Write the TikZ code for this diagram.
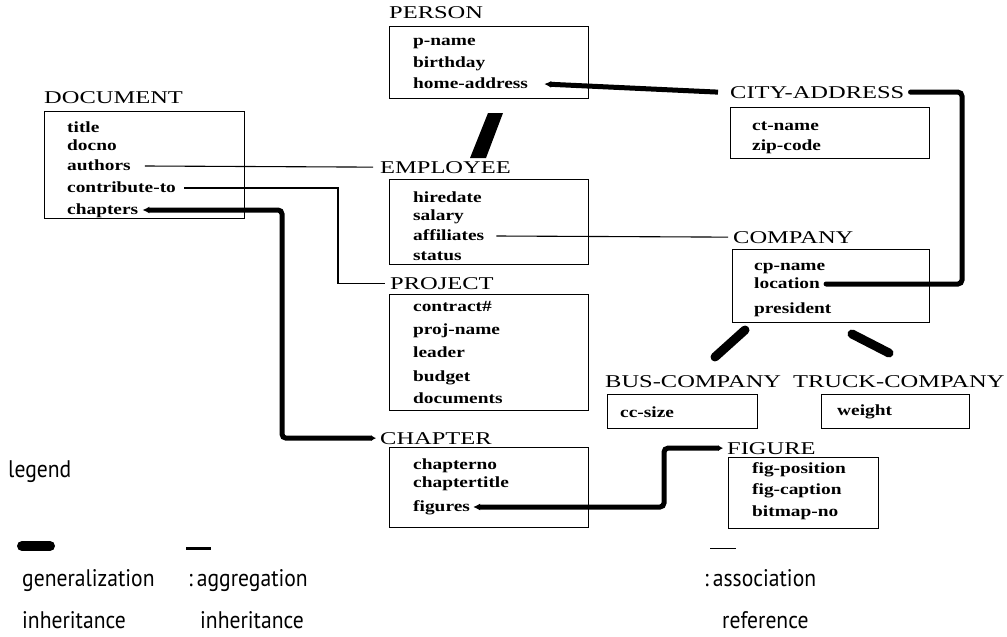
\documentclass[tikz,border=0pt]{standalone}
\usepackage{fontspec}
\setmainfont{Liberation Serif}
\newfontfamily\titlefont[FakeStretch=1.36]{Liberation Serif}
\newfontfamily\attrfont[FakeStretch=1.25]{Liberation Serif}
\newfontfamily\legfont[FakeStretch=0.9]{PT Sans}
\usetikzlibrary{arrows.meta}
\begin{document}
\begin{tikzpicture}[x=1pt,y=-1pt,
  title/.style={anchor=base west, inner sep=0pt, font=\titlefont\fontsize{18}{18}\selectfont},
  attr/.style={anchor=base west, inner sep=0pt, font=\attrfont\bfseries\fontsize{15.5}{15.5}\selectfont},
  classbox/.style={draw, line width=1.2pt, anchor=north west, inner sep=0pt},
  assoc/.style={line width=1.1pt},
  aggr/.style={line width=5pt, rounded corners=4pt},
  gentip/.style={line width=9pt, line cap=round},
  leg/.style={anchor=base west, inner sep=0pt, font=\legfont\fontsize{24}{24}\selectfont},
  atip/.tip={Latex[length=7pt,width=7pt]}
]
\useasboundingbox (0,0) rectangle (1007,637);

% ---------- boxes ----------
\node[classbox, minimum width=199pt, minimum height=72pt] (personbox) at (389,26) {};
\node[classbox, minimum width=200pt, minimum height=107pt] (docbox) at (44,111) {};
\node[classbox, minimum width=199pt, minimum height=85pt] (empbox) at (389,179) {};
\node[classbox, minimum width=199pt, minimum height=51pt] (citybox) at (730,107) {};
\node[classbox, minimum width=197pt, minimum height=73pt] (compbox) at (732,249) {};
\node[classbox, minimum width=199pt, minimum height=116pt] (projbox) at (389,294) {};
\node[classbox, minimum width=150pt, minimum height=34pt] (busbox) at (607,394) {};
\node[classbox, minimum width=148pt, minimum height=34pt] (truckbox) at (821,394) {};
\node[classbox, minimum width=199pt, minimum height=80pt] (chapbox) at (389,447) {};
\node[classbox, minimum width=150pt, minimum height=71pt] (figbox) at (728,457) {};

% ---------- titles ----------
\node[title] (persontitle) at (389,19) {PERSON};
\node[title] (doctitle) at (44,103) {DOCUMENT};
\node[title] (emptitle) at (380,173) {EMPLOYEE};
\node[title] (citytitle) at (730,98) {CITY-ADDRESS};
\node[title] (comptitle) at (733,243) {COMPANY};
\node[title] (projtitle) at (390,289) {PROJECT};
\node[title] (bustitle) at (605,387) {BUS-COMPANY};
\node[title] (trucktitle) at (793,387) {TRUCK-COMPANY};
\node[title] (chaptitle) at (380,444) {CHAPTER};
\node[title] (figtitle) at (727,454) {FIGURE};

% ---------- attributes ----------
\node[attr] (pname) at (413,45) {p-name};
\node[attr] (birthday) at (413,67) {birthday};
\node[attr] (homeaddr) at (413,88) {home-address};

\node[attr] (dtitle) at (67,132) {title};
\node[attr] (docno) at (67,150) {docno};
\node[attr] (authors) at (67,170) {authors};
\node[attr] (contribute) at (67,192) {contribute-to};
\node[attr] (chapters) at (67,214) {chapters};

\node[attr] (hiredate) at (413,202) {hiredate};
\node[attr] (salary) at (413,220) {salary};
\node[attr] (affiliates) at (413,240) {affiliates};
\node[attr] (status) at (413,260) {status};

\node[attr] (ctname) at (752,130) {ct-name};
\node[attr] (zipcode) at (752,150) {zip-code};

\node[attr] (cpname) at (754,270) {cp-name};
\node[attr] (location) at (754,288) {location};
\node[attr] (president) at (754,313) {president};

\node[attr] (contract) at (413,311) {contract\#};
\node[attr] (projname) at (413,334) {proj-name};
\node[attr] (leader) at (413,357) {leader};
\node[attr] (budget) at (413,381) {budget};
\node[attr] (documents) at (413,403) {documents};

\node[attr] (ccsize) at (620,417) {cc-size};
\node[attr] (weight) at (837,415) {weight};

\node[attr] (chapterno) at (413,469) {chapterno};
\node[attr] (chaptertitle) at (413,487) {chaptertitle};
\node[attr] (figures) at (413,511) {figures};

\node[attr] (figpos) at (752,473) {fig-position};
\node[attr] (figcap) at (752,494) {fig-caption};
\node[attr] (bitmap) at (752,516) {bitmap-no};

% ---------- bend points ----------
\coordinate (cvert) at (962,190);
\coordinate (pbend) at (338,240);
\coordinate (chbend) at (282,320);
\coordinate (fbend) at (664,480);

% ---------- aggregation (thick) ----------
\draw[aggr, {atip}-] ([shift={(16,-4)}]homeaddr.base east) -- ([xshift=-12]citytitle.west);
\draw[aggr, line cap=round] ([xshift=6]citytitle.east) -| (cvert) |- ([shift={(6,-4)}]location.base east);
\draw[aggr, {atip}-{Latex[length=5pt,width=6pt]}] ([shift={(4,-4)}]chapters.base east) -| (chbend) |- ([xshift=-4]chaptitle.west);
\draw[aggr, {atip}-{Latex[length=5pt,width=6pt]}] ([shift={(3,-4)}]figures.base east) -| (fbend) |- ([xshift=-4]figtitle.west);

% ---------- association (thin) ----------
\draw[assoc] ([shift={(14,-4)}]authors.base east) -- ([xshift=-7]emptitle.west);
\draw[assoc] ([shift={(8,-4)}]contribute.base east) -| (pbend) |- ([xshift=-5]projtitle.west);
\draw[assoc] ([shift={(12,-4)}]affiliates.base east) -- ([xshift=-5]comptitle.west);

% ---------- generalization ----------
\fill (488,113) -- (503,113) -- (486,158) -- (470,158) -- cycle;
\draw[gentip] (745,330) -- (715,357);
\draw[gentip] (852,334) -- (889,353);

% ---------- legend ----------
\node[leg] (legendlbl) at (8,477) {legend};
\draw[gentip, line width=10pt] (22,546) -- (50,546);
\node[leg] (genlbl) at (22,586) {generalization};
\node[leg] (genlbl2) at (22,628) {inheritance};
\draw[line width=3pt] (186,548) -- (211,548);
\node[leg] (agglbl) at (188,586) {:\kern4pt aggregation};
\node[leg] (agglbl2) at (200,628) {inheritance};
\draw[line width=1pt] (710,548) -- (736,548);
\node[leg] (asslbl) at (704,586) {:\kern4pt association};
\node[leg] (asslbl2) at (722,628) {reference};
\end{tikzpicture}
\end{document}
